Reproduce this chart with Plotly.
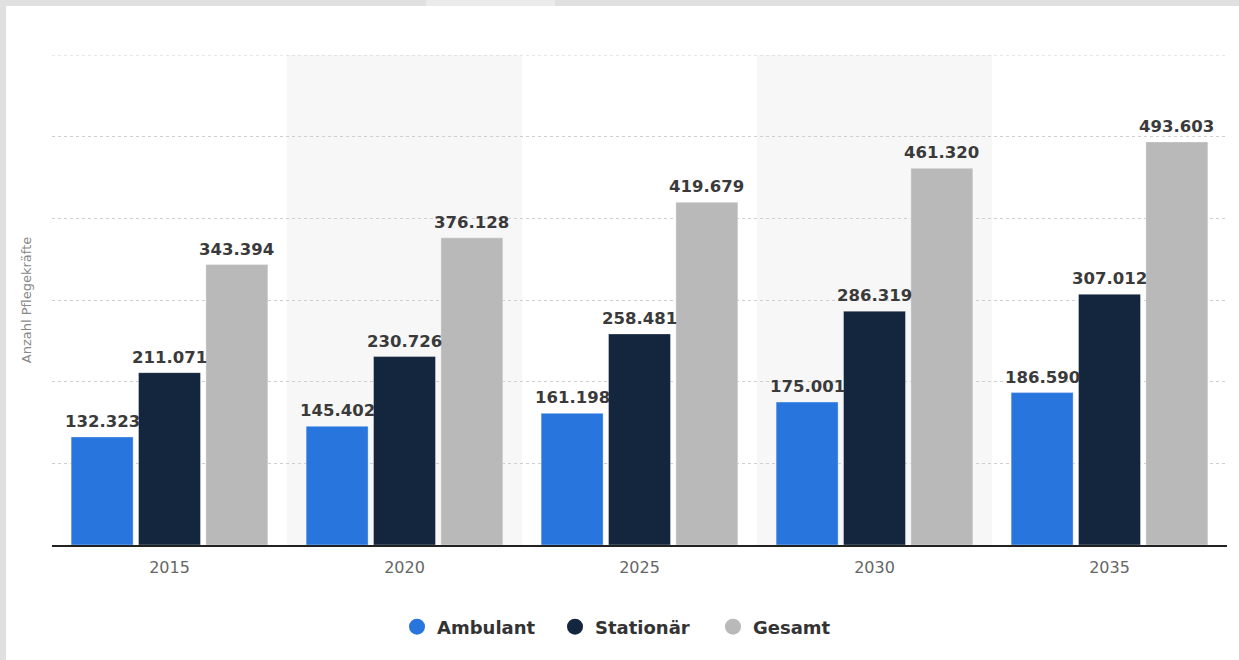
import plotly.graph_objects as go

years = ["2015", "2020", "2025", "2030", "2035"]
ambulant = [132323, 145402, 161198, 175001, 186590]
stationaer = [211071, 230726, 258481, 286319, 307012]
gesamt = [343394, 376128, 419679, 461320, 493603]

series = [
    ("Ambulant", ambulant, "#2876dd"),
    ("Stationär", stationaer, "#13263d"),
    ("Gesamt", gesamt, "#b9b9b9"),
]

BARGAP = 0.14
GROUPGAP = 0.08
Y_MAX = 600000

def fmt(v):
    return f"{v:,}".replace(",", ".")

fig = go.Figure()
annotations = []
slot = (1 - BARGAP) / len(series)
for k, (name, vals, col) in enumerate(series):
    fig.add_trace(go.Bar(
        x=years, y=vals, name=name,
        marker=dict(color=col, line=dict(width=1, color="rgba(255,255,255,0.35)")),
        showlegend=False, hoverinfo="x+y",
    ))
    for i, v in enumerate(vals):
        annotations.append(dict(
            x=i + (k - 1) * slot, y=v, xref="x", yref="y", text=fmt(v),
            showarrow=False, yanchor="bottom", yshift=4,
            font=dict(family="DejaVu Sans", size=16.5, color="#3a3a3a", weight="bold"),
        ))
for name, vals, col in series:
    fig.add_trace(go.Scatter(
        x=[None], y=[None], mode="markers", name=name,
        marker=dict(symbol="circle", size=20, color=col),
    ))

W, H = 1239, 660
L, R, T, B = 52, 12, 55, 115
pw, ph = W - L - R, H - T - B

def px_x(p):
    return (p - L) / pw

def px_y(p):
    return (H - B - p) / ph

shapes = []
for i in (1, 3):
    shapes.append(dict(type="rect", xref="x", yref="paper", x0=i - 0.5, x1=i + 0.5,
                       y0=0, y1=1, fillcolor="#f7f7f7", line=dict(width=0), layer="below"))
# top gridline at the range edge
shapes.append(dict(type="line", xref="paper", yref="y", x0=0, x1=1, y0=Y_MAX, y1=Y_MAX,
                   line=dict(color="#cfcfcf", width=1, dash="dot"), layer="below"))
# outer frame (top and left grey border)
shapes.append(dict(type="rect", xref="paper", yref="paper", x0=px_x(0), x1=px_x(W),
                   y0=px_y(6), y1=px_y(0), fillcolor="#e0e0e0", line=dict(width=0)))
shapes.append(dict(type="rect", xref="paper", yref="paper", x0=px_x(426), x1=px_x(555),
                   y0=px_y(6), y1=px_y(0), fillcolor="#ebebeb", line=dict(width=0)))
shapes.append(dict(type="rect", xref="paper", yref="paper", x0=px_x(0), x1=px_x(6),
                   y0=px_y(H), y1=px_y(0), fillcolor="#e0e0e0", line=dict(width=0)))

fig.update_layout(
    width=W, height=H,
    margin=dict(l=L, r=R, t=T, b=B),
    paper_bgcolor="white", plot_bgcolor="rgba(0,0,0,0)",
    barmode="group", bargap=BARGAP, bargroupgap=GROUPGAP,
    shapes=shapes, annotations=annotations,
    xaxis=dict(
        type="category", showgrid=False, showline=True, linecolor="#222", linewidth=2,
        ticks="", tickfont=dict(family="DejaVu Sans", size=16, color="#666"),
        ticklabelstandoff=7,
        range=[-0.5, 4.5],
    ),
    yaxis=dict(
        range=[0, Y_MAX], tickvals=[100000, 200000, 300000, 400000, 500000],
        showticklabels=False,
        showgrid=True, gridcolor="#cfcfcf", griddash="dot", gridwidth=1,
        zeroline=False,
        title=dict(text="Anzahl Pflegekräfte", standoff=16,
                   font=dict(family="DejaVu Sans", size=13, color="#888")),
    ),
    legend=dict(orientation="h", x=px_x(397), xanchor="left", y=px_y(627), yanchor="middle",
                font=dict(family="DejaVu Sans", size=18, color="#333", weight="bold"),
                itemwidth=30, tracegroupgap=0, entrywidth=113, entrywidthmode="pixels"),
    font=dict(family="DejaVu Sans"),
)

fig.write_html("out.html", config={"displayModeBar": False},
               post_script="document.body.style.margin='0';document.body.style.padding='0';")
